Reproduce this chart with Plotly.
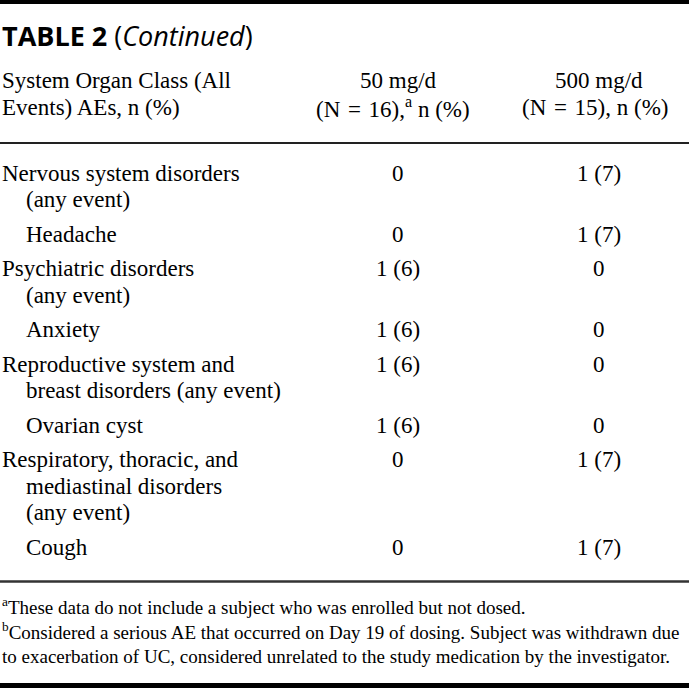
import plotly.graph_objects as go

# ---- data ----
title_main = "TABLE 2"
title_note = "Continued"
header_col0 = ["System Organ Class (All", "Events) AEs, n (%)"]
header_col1 = ["50 mg/d", "(N\u2004=\u200416),<sup>a</sup> n (%)"]
header_col2 = ["500 mg/d", "(N\u2004=\u200415), n (%)"]

row_lines = [
    ["Nervous system disorders", "(any event)"],
    ["Headache"],
    ["Psychiatric disorders", "(any event)"],
    ["Anxiety"],
    ["Reproductive system and", "breast disorders (any event)"],
    ["Ovarian cyst"],
    ["Respiratory, thoracic, and", "mediastinal disorders", "(any event)"],
    ["Cough"],
]
row_is_sub = [False, True, False, True, False, True, False, True]
dose50 = ["0", "0", "1 (6)", "1 (6)", "1 (6)", "1 (6)", "0", "0"]
dose500 = ["1 (7)", "1 (7)", "0", "0", "0", "0", "1 (7)", "1 (7)"]

footnotes = [
    "<sup>a</sup>These data do not include a subject who was enrolled but not dosed.",
    "<sup>b</sup>Considered a serious AE that occurred on Day 19 of dosing. Subject was withdrawn due",
    "to exacerbation of UC, considered unrelated to the study medication by the investigator.",
]

# ---- layout constants ----
W, H = 689, 688
SERIF = "Liberation Serif, Times New Roman, serif"
BODY = 23
X0, XIND, XC1, XC2 = 0, 24, 398, 599
LINE_STEP, ROW_GAP = 26.5, 34.5

ann = []
def txt(x, y, s, size=BODY, anchor="left", font=SERIF):
    ann.append(dict(x=x, y=y, xref="x", yref="y", text=s, showarrow=False,
                    xanchor=anchor, yanchor="middle",
                    font=dict(family=font, size=size, color="black")))

# title
txt(0, 35, f"<b>{title_main}</b> (<i>{title_note}</i>)", size=27,
    font="Open Sans, Lato, sans-serif")

# header
for i, y in enumerate([80, 107]):
    txt(X0, y, header_col0[i])
    txt(XC1 - 5 if i else XC1, y, header_col1[i], anchor="center")
    txt(XC2 - 4 if i else XC2, y, header_col2[i], anchor="center")

# body
y = 173
for lines, sub, a, b in zip(row_lines, row_is_sub, dose50, dose500):
    txt(XC1, y, a, anchor="center")
    txt(XC2, y, b, anchor="center")
    for j, s in enumerate(lines):
        txt(XIND if (sub or j > 0) else X0, y, s)
        if j < len(lines) - 1:
            y += LINE_STEP
    y += ROW_GAP

# footnotes
for k, (s, fy) in enumerate(zip(footnotes, [606, 631, 656])):
    txt(0, fy, s, size=19)

shapes = [
    dict(type="line", xref="x", yref="y", x0=0, x1=W, y0=2, y1=2,
         line=dict(color="black", width=4)),
    dict(type="line", xref="x", yref="y", x0=0, x1=W, y0=143, y1=143,
         line=dict(color="#222", width=2)),
    dict(type="line", xref="x", yref="y", x0=0, x1=W, y0=581.5, y1=581.5,
         line=dict(color="#333", width=2.5)),
    dict(type="line", xref="x", yref="y", x0=0, x1=W, y0=685.5, y1=685.5,
         line=dict(color="black", width=5)),
]

fig = go.Figure()
fig.update_layout(
    width=W, height=H, margin=dict(l=0, r=0, t=0, b=0),
    paper_bgcolor="white", plot_bgcolor="white",
    xaxis=dict(range=[0, W], visible=False, fixedrange=True),
    yaxis=dict(range=[H, 0], visible=False, fixedrange=True),
    annotations=ann, shapes=shapes, showlegend=False,
)
fig.write_html("out.html", config={"displayModeBar": False},
               post_script="document.body.style.margin='0';document.body.style.overflow='hidden';")
